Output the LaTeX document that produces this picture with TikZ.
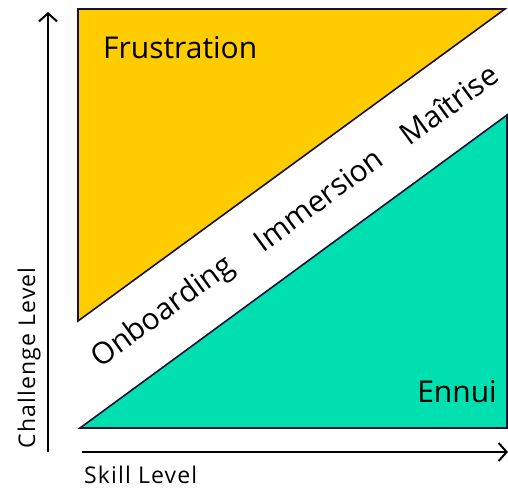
\documentclass[tikz,border=0pt]{standalone}
\usepackage{fontspec}
\setmainfont{Open Sans}
\usepackage{xcolor}
\usetikzlibrary{arrows.meta,positioning,calc}
\definecolor{flowyellow}{HTML}{FFCC00}
\definecolor{flowgreen}{HTML}{00DFB0}
\definecolor{flowink}{HTML}{1A1033}

\begin{document}
\begin{tikzpicture}[x=1pt,y=-1pt,
  zone/.style={draw=flowink,line width=1.6pt,line join=miter},
  axis/.style={line width=2pt,-{Straight Barb[length=8pt,width=18pt,line width=2pt]}},
  band/.style={font=\fontsize{30}{32}\selectfont,rotate=36.2,inner sep=0pt},
  axislabel/.style={font=\fontsize{23}{25}\selectfont\addfontfeature{LetterSpace=5},inner sep=0pt}]
  \useasboundingbox (0,0) rectangle (508,491);
  % zones
  \filldraw[zone,fill=flowyellow] (78,9) -- (505,9) -- (78,321) -- cycle;
  \filldraw[zone,fill=flowgreen] (80,428) -- (507,428) -- (507,115) -- cycle;
  \node[anchor=base west,font=\fontsize{30}{32}\selectfont,inner sep=0pt] (frus) at (103,58) {Frustration};
  \node[anchor=base east,font=\fontsize{30}{32}\selectfont,inner sep=0pt] (ennui) at (497,402) {Ennui};
  % flow band
  \coordinate (bandlo) at (79,374.5);
  \coordinate (bandhi) at (506,62);
  \node[band] (onb) at ($(bandlo)!0.197!(bandhi)$) {Onboarding};
  \node[band] (imm) at ($(bandlo)!0.56!(bandhi)$) {Immersion};
  \node[band] (mai) at ($(bandlo)!0.866!(bandhi)$) {Maîtrise};
  % axes
  \coordinate (yfoot) at (48,452); \coordinate (ytop) at (48,12);
  \coordinate (xfoot) at (82,452); \coordinate (xtip) at (508,452);
  \draw[axis] (yfoot) -- (ytop);
  \draw[axis] (xfoot) -- (xtip);
  \node[axislabel,rotate=90,anchor=base] (chal) at (35,358) {Challenge Level};
  \node[axislabel,anchor=base west] (skill) at (84,483) {Skill Level};
\end{tikzpicture}
\end{document}
